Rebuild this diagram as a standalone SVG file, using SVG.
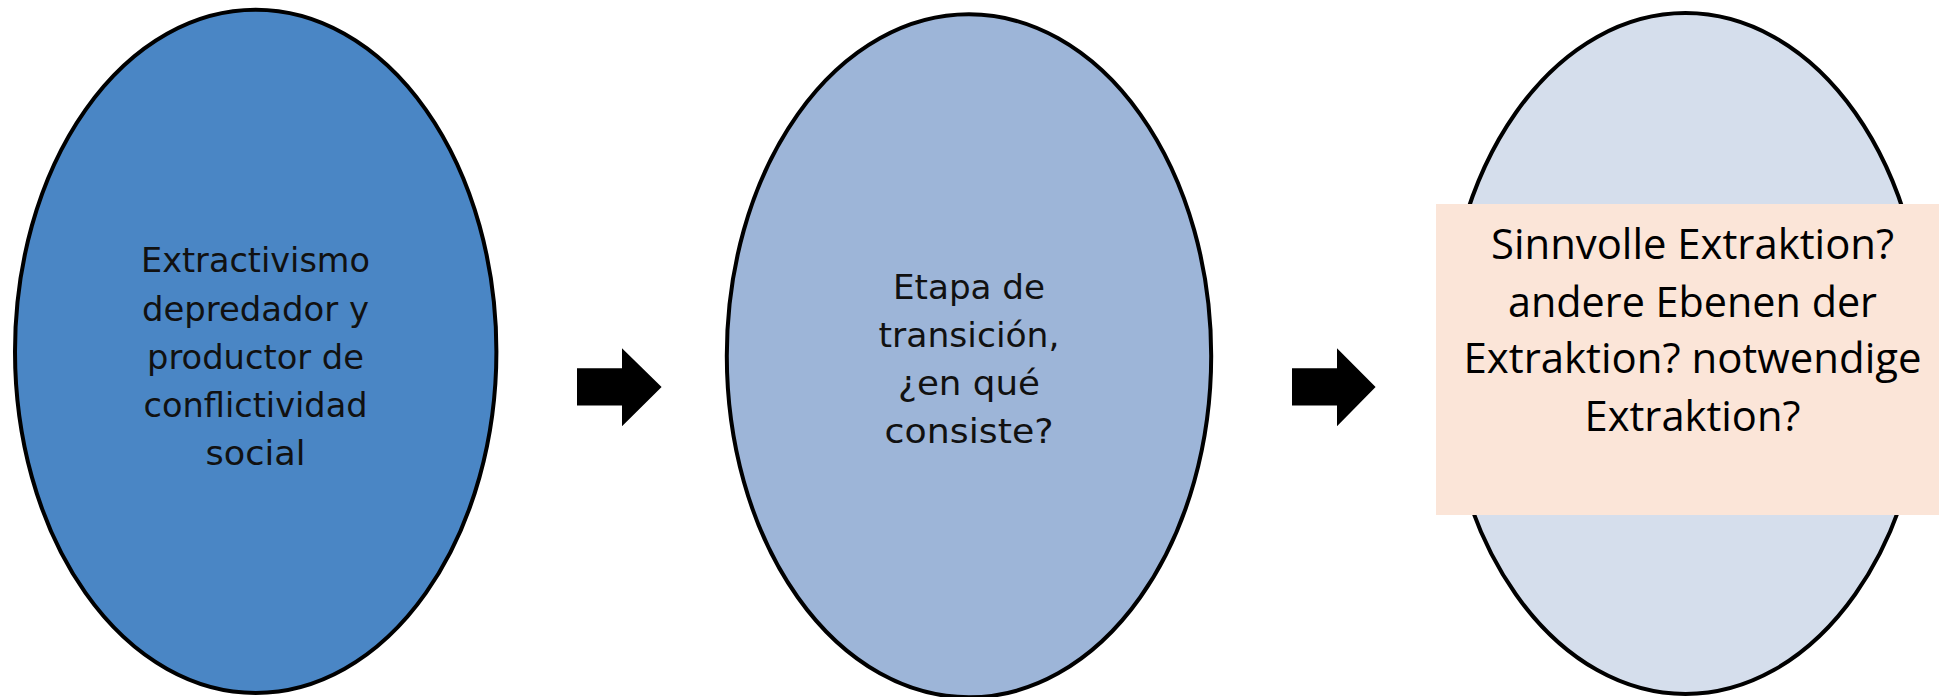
<svg xmlns="http://www.w3.org/2000/svg" width="1939" height="697" viewBox="0 0 1939 697">
  <style>
    .ell { stroke: #000; stroke-width: 4; }
    .t1 { font-family: "DejaVu Sans", "Liberation Sans", sans-serif; font-size: 33.5px; fill: #111; text-anchor: middle; }
    .t2 { font-family: "Open Sans", "Liberation Sans", sans-serif; font-size: 42px; fill: #000; text-anchor: middle; }
    .arrow { fill: #000; }
  </style>
  <rect x="0" y="0" width="1939" height="697" fill="#fff"/>
  <g id="node1">
    <ellipse class="ell" cx="255.7" cy="351.4" rx="240.7" ry="341.6" fill="#4A86C5"/>
    <text class="t1" x="255.5" y="272" textLength="229" lengthAdjust="spacingAndGlyphs">Extractivismo</text>
    <text class="t1" x="255.5" y="320.5" textLength="227" lengthAdjust="spacingAndGlyphs">depredador y</text>
    <text class="t1" x="255.5" y="369" textLength="217" lengthAdjust="spacingAndGlyphs">productor de</text>
    <text class="t1" x="255.5" y="416.5" textLength="224" lengthAdjust="spacingAndGlyphs">conflictividad</text>
    <text class="t1" x="255.5" y="464.5" textLength="100" lengthAdjust="spacingAndGlyphs">social</text>
  </g>
  <g id="node2">
    <ellipse class="ell" cx="969" cy="355.8" rx="242.2" ry="341.5" fill="#9DB5D8"/>
    <text class="t1" x="969" y="299" textLength="152" lengthAdjust="spacingAndGlyphs">Etapa de</text>
    <text class="t1" x="969" y="347.3" textLength="181" lengthAdjust="spacingAndGlyphs">transición,</text>
    <text class="t1" x="969" y="395" textLength="142" lengthAdjust="spacingAndGlyphs">¿en qué</text>
    <text class="t1" x="969" y="443" textLength="169" lengthAdjust="spacingAndGlyphs">consiste?</text>
  </g>
  <g id="node3">
    <ellipse class="ell" cx="1685.5" cy="353.5" rx="240" ry="340.5" fill="#D5DEEC"/>
    <rect x="1436" y="204" width="503" height="311" fill="#FBE5D8"/>
    <text class="t2" x="1692.5" y="259.3" textLength="403" lengthAdjust="spacingAndGlyphs">Sinnvolle Extraktion?</text>
    <text class="t2" x="1692.5" y="316.7" textLength="369" lengthAdjust="spacingAndGlyphs">andere Ebenen der</text>
    <text class="t2" x="1692.5" y="373.3" textLength="458" lengthAdjust="spacingAndGlyphs">Extraktion? notwendige</text>
    <text class="t2" x="1692.5" y="430.7" textLength="216" lengthAdjust="spacingAndGlyphs">Extraktion?</text>
  </g>
  <g id="connectors">
    <polygon class="arrow" points="577,368.3 622,368.3 622,348.2 661.6,387 622,426.3 622,405.4 577,405.4"/>
    <polygon class="arrow" points="1292,368.3 1337,368.3 1337,348.2 1375.6,387 1337,426.3 1337,405.4 1292,405.4"/>
  </g>
</svg>
